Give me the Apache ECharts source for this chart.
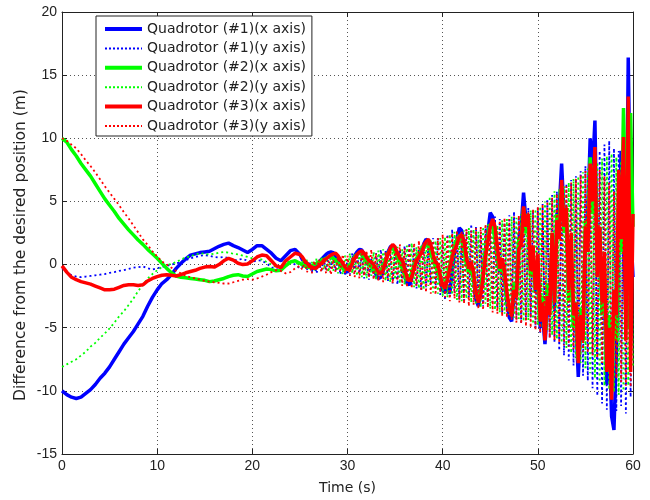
<!DOCTYPE html>
<html><head><meta charset="utf-8">
<script src="https://cdn.jsdelivr.net/npm/echarts@6/dist/echarts.min.js"></script>
<style>html,body{margin:0;padding:0;background:#fff}#c{width:650px;height:500px}</style>
</head><body><div id="c"></div>
<script>
// Time stamps (s)
const time = [
0,0.5,1,1.5,2,2.5,3,3.5,4,4.5,
5,5.5,6,6.5,7,7.5,8,8.5,9,9.5,
10,10.5,11,11.5,12,12.5,13,13.5,14,14.5,
15,15.5,16,16.5,17,17.5,18,18.5,19,19.5,
20,20.5,21,21.5,22,22.5,23,23.5,24,24.5,
25,
25.25,25.5,25.75,26, 26.25,26.5,26.75,27, 27.25,27.5,27.75,28, 28.25,28.5,28.75,29, 29.25,29.5,29.75,30,
30.25,30.5,30.75,31, 31.25,31.5,31.75,32, 32.25,32.5,32.75,33, 33.25,33.5,33.75,34, 34.25,34.5,34.75,35,
35.25,35.5,35.75,36, 36.25,36.5,36.75,37, 37.25,37.5,37.75,38, 38.25,38.5,38.75,39, 39.25,39.5,39.75,40,
40.25,40.5,40.75,41, 41.25,41.5,41.75,42, 42.25,42.5,42.75,43, 43.25,43.5,43.75,44, 44.25,44.5,44.75,45,
45.25,45.5,45.75,46, 46.25,46.5,46.75,47, 47.25,47.5,47.75,48, 48.25,48.5,48.75,49, 49.25,49.5,49.75,50,
50.25,50.5,50.75,51, 51.25,51.5,51.75,52, 52.25,52.5,52.75,53, 53.25,53.5,53.75,54, 54.25,54.5,54.75,55,
55.25,55.5,55.75,56, 56.25,56.5,56.75,57, 57.25,57.5,57.75,58, 58.25,58.5,58.75,59, 59.25,59.5,59.75,60
];

// Quadrotor #1, x axis
const q1x = [
-10.0,-10.3,-10.5,-10.6,-10.5,-10.2,-9.9,-9.5,-9.0,-8.6,
-8.1,-7.5,-6.9,-6.3,-5.8,-5.3,-4.7,-4.1,-3.3,-2.6,
-2.0,-1.5,-1.2,-0.8,-0.3,0.1,0.45,0.75,0.85,0.95,
1.0,1.05,1.25,1.45,1.6,1.7,1.5,1.35,1.15,0.95,
1.2,1.5,1.5,1.2,0.9,0.5,0.3,0.7,1.1,1.2,
0.8,
0.4,0.2,0.0,-0.2, -0.3,-0.2,0.0,0.2, 0.4,0.6,0.8,0.95, 1.0,0.95,0.7,0.4, 0.1,-0.2,-0.5,-0.6,
-0.3,0.2,0.7,1.0, 1.2,1.15,0.8,0.4, 0.1,0.0,-0.3,-0.8, -1.1,-1.0,-0.5,0.3, 1.0,1.4,1.5,1.2,
0.6,0.3,0.0,-0.8, -1.5,-1.6,-1.1,-0.2, 0.4,0.7,1.1,1.6, 2.0,1.9,1.3,0.5, 0.0,-0.4,-1.3,-2.0,
-2.2,-1.6,-2.3,-0.5, 1.0,2.0,2.9,2.7, 1.5,0.2,-0.5,-0.1, -1.2,-2.8,-3.3,-2.2, -0.5,1.2,2.6,4.1,
3.8,2.2,0.4,-0.6, 0.3,-1.2,-3.0,-4.2, -4.5,-2.5,-1.8,2.0, 3.0,5.7,3.5,3.0, -0.8,0.5,-2.2,-1.0,
-5.0,-4.0,-6.3,-3.5, -2.5,1.5,-3.5,4.0, 4.5,8.0,4.0,3.0, -2.5,0.5,-5.0,-4.5, -8.9,-5.0,-5.5,2.5,
4.0,10.0,7.5,11.4, 0.0,3.0,-4.0,-2.0, -9.5,-6.0,-12.0,-13.1, -7.0,1.0,9.0,2.0, -4.0,16.4,3.0,-1.0
];

// Quadrotor #1, y axis
const q1y = [
-0.3,-0.6,-0.85,-0.95,-1.0,-0.95,-0.9,-0.85,-0.8,-0.75,
-0.65,-0.6,-0.5,-0.45,-0.35,-0.25,-0.2,-0.15,-0.3,-0.4,
-0.3,-0.2,-0.1,0.0,0.1,0.2,0.35,0.5,0.6,0.7,
0.75,0.7,0.6,0.55,0.6,0.5,0.3,0.4,0.45,0.3,
0.2,0.35,0.3,0.1,-0.2,-0.4,-0.3,0.0,0.2,0.0,
-0.3,
-0.2,0.3,-0.4,0.2, -0.6,0.1,-0.7,0.2, -0.5,0.4,-0.4,0.6, -0.3,0.7,-0.5,0.5, -0.8,0.3,-0.9,0.4,
-0.8,0.9,-0.6,1.0, -0.7,0.8,-1.1,0.6, -1.2,0.5,-1.0,0.9, -0.8,1.2,-0.9,1.1, -1.3,0.8,-1.5,0.7,
-1.6,1.2,-1.4,1.5, -1.2,1.7,-1.6,1.4, -1.9,1.2,-2.0,1.3, -1.8,1.8,-1.6,2.1, -1.9,2.2,-2.4,1.6,
-2.8,2.4,-2.5,2.8, -2.2,2.6,-2.8,2.2, -3.0,2.8,-2.6,3.2, -2.4,3.0,-2.9,2.6, -3.3,2.9,-3.2,3.4,
-3.0,3.8,-3.4,3.6, -3.8,3.3,-4.0,3.9, -3.6,4.2,-4.3,3.8, -4.6,4.0,-4.4,4.5, -4.2,4.3,-5.0,4.5,
-5.4,4.8,-5.6,5.2, -5.8,5.5,-6.2,5.8, -6.8,6.0,-7.2,6.4, -7.6,6.7,-8.0,7.0, -8.4,7.4,-8.8,7.8,
-9.2,8.2,-9.8,8.6, -10.4,9.0,-11.0,9.5, -11.5,9.8,-11.8,9.2, -11.6,9.0,-11.2,8.5, -11.8,8.0,-10.5,6.0
];

// Quadrotor #2, x axis
const q2x = [
10.0,9.7,9.1,8.6,8.0,7.5,7.0,6.4,5.8,5.2,
4.7,4.2,3.65,3.2,2.75,2.35,1.95,1.6,1.2,0.85,
0.5,0.1,-0.3,-0.65,-0.9,-1.0,-1.05,-1.1,-1.15,-1.2,
-1.25,-1.35,-1.3,-1.2,-1.1,-0.95,-0.85,-0.8,-0.9,-0.95,
-0.75,-0.55,-0.45,-0.35,-0.4,-0.5,-0.45,-0.1,0.2,0.3,
0.1,
0.0,-0.1,-0.2,-0.2, -0.1,0.0,0.1,0.2, 0.3,0.4,0.5,0.6, 0.6,0.5,0.3,0.1, -0.1,-0.3,-0.4,-0.3,
0.0,0.3,0.6,0.8, 0.9,0.8,0.5,0.2, 0.0,-0.2,-0.4,-0.6, -0.7,-0.5,-0.1,0.4, 0.9,1.2,1.3,1.0,
0.5,0.1,-0.3,-0.8, -1.2,-1.1,-0.6,0.0, 0.5,0.8,1.1,1.5, 1.7,1.5,1.0,0.3, -0.2,-0.6,-1.2,-1.6,
-1.5,-0.8,0.0,0.8, 1.5,2.0,2.3,2.0, 1.0,0.0,-0.6,-0.3, -1.2,-2.3,-2.6,-1.8, -0.4,1.0,2.3,3.2,
3.0,2.0,0.6,-0.5, 0.2,-1.0,-2.6,-3.6, -3.8,-1.5,-2.5,2.0, 2.0,4.5,2.5,3.2, -1.0,0.8,-2.0,0.0,
-4.2,-2.5,-5.3,-1.5, -3.5,2.5,-2.5,4.0, 3.0,6.2,2.5,4.0, -3.0,1.5,-5.0,-3.0, -7.6,-3.5,-6.0,3.5,
2.0,8.5,4.0,8.0, -1.0,2.5,-4.0,0.0, -8.5,-4.0,-10.0,-3.0, -6.0,5.0,1.0,12.4, 4.0,-5.0,12.0,3.0
];

// Quadrotor #2, y axis
const q2y = [
-8.1,-7.9,-7.7,-7.5,-7.2,-6.9,-6.5,-6.2,-5.8,-5.45,
-5.05,-4.6,-4.1,-3.7,-3.2,-2.7,-2.1,-1.6,-1.1,-0.75,
-0.45,-0.2,-0.05,0.05,0.2,0.4,0.55,0.65,0.8,0.9,
0.85,0.8,0.85,0.95,1.0,0.95,0.85,0.8,0.7,0.6,
0.5,0.5,0.4,0.2,0.0,-0.2,-0.1,0.1,0.3,0.2,
-0.1,
0.3,-0.3,0.4,-0.4, 0.2,-0.5,0.5,-0.3, 0.6,-0.4,0.5,-0.6, 0.7,-0.5,0.6,-0.7, 0.5,-0.8,0.7,-0.6,
0.9,-0.7,0.8,-0.9, 0.9,-1.0,0.7,-1.1, 0.8,-0.9,1.0,-1.2, 1.1,-1.0,1.2,-1.3, 1.0,-1.4,1.3,-1.2,
1.4,-1.5,1.2,-1.6, 1.5,-1.4,1.7,-1.8, 1.4,-1.9,1.6,-2.0, 1.8,-1.7,2.0,-2.2, 1.9,-2.3,2.1,-2.5,
2.2,-2.6,2.4,-2.4, 2.6,-2.8,2.3,-2.9, 2.7,-2.7,2.9,-3.0, 2.8,-3.2,2.6,-3.4, 3.0,-3.1,3.2,-3.5,
3.3,-3.6,3.1,-3.8, 3.5,-3.9,3.6,-4.0, 3.8,-4.2,3.7,-4.3, 4.0,-4.5,4.1,-4.4, 4.3,-4.7,4.4,-4.8,
4.6,-5.0,5.0,-5.2, 5.4,-5.6,5.8,-5.9, 6.0,-6.2,6.2,-6.6, 6.5,-7.0,6.8,-7.4, 7.0,-7.8,7.3,-8.2,
7.6,-8.6,7.9,-9.0, 8.1,-9.3,8.4,-9.6, 8.6,-9.9,8.8,-10.1, 8.5,-10.3,8.2,-10.0, 7.8,-9.6,7.0,-8.0
];

// Quadrotor #3, x axis
const q3x = [
-0.1,-0.6,-1.0,-1.2,-1.35,-1.45,-1.55,-1.7,-1.85,-2.0,
-2.0,-1.95,-1.8,-1.65,-1.6,-1.6,-1.65,-1.6,-1.3,-1.1,
-0.95,-0.85,-0.8,-0.85,-0.9,-0.8,-0.65,-0.55,-0.45,-0.3,
-0.2,-0.15,-0.2,0.0,0.3,0.5,0.35,0.1,0.0,0.05,
0.3,0.6,0.75,0.7,0.3,-0.1,-0.25,0.3,0.6,0.9,
0.8,
0.6,0.3,0.1,-0.1, -0.2,-0.3,-0.25,-0.1, 0.1,0.3,0.45,0.6, 0.75,0.85,0.9,0.7, 0.4,0.1,-0.2,-0.4,
-0.35,0.1,0.5,0.8, 1.0,1.1,0.9,0.6, 0.3,0.2,0.0,-0.3, -0.6,-0.7,-0.4,0.2, 0.8,1.3,1.6,1.4,
0.9,0.5,0.4,-0.3, -1.0,-1.3,-1.0,-0.3, 0.3,0.6,0.9,1.4, 1.8,2.0,1.6,0.8, 0.2,0.0,-0.9,-1.6,
-1.9,-1.2,-0.3,0.6, 1.2,1.6,2.2,2.4, 1.8,0.6,-0.3,0.2, -0.6,-2.2,-3.0,-2.4, -1.0,0.6,1.8,3.0,
3.6,3.0,1.4,-0.3, 0.5,-0.5,-2.2,-3.4, -4.1,-2.0,-2.6,1.2, 1.6,4.6,3.0,4.0, -0.5,1.5,-2.0,0.8,
-4.5,-3.0,-6.0,-2.5, -4.0,2.5,-3.0,3.5, 2.0,6.7,3.0,4.5, -2.0,2.5,-4.0,-3.0, -7.8,-4.0,-6.0,3.0,
1.0,8.0,5.0,9.3, -1.0,3.0,-3.0,1.0, -8.5,-5.0,-10.7,-2.0, -4.0,7.5,2.0,10.1, -6.0,13.3,-8.5,4.0
];

// Quadrotor #3, y axis
const q3y = [
10.0,9.8,9.5,9.2,8.75,8.25,7.8,7.3,6.75,6.2,
5.7,5.2,4.7,4.15,3.65,3.1,2.55,2.0,1.55,1.05,
0.65,0.25,0.0,-0.25,-0.5,-0.7,-0.9,-1.0,-1.1,-1.2,
-1.3,-1.35,-1.4,-1.45,-1.5,-1.5,-1.4,-1.3,-1.2,-1.15,
-1.2,-1.1,-0.95,-0.8,-0.6,-0.45,-0.5,-0.7,-0.6,-0.3,
-0.1,
-0.4,0.2,-0.6,0.1, -0.7,0.3,-0.5,0.4, -0.6,0.5,-0.7,0.3, -0.8,0.4,-0.6,0.6, -0.5,0.8,-0.7,0.7,
-0.9,0.6,-1.0,0.8, -1.1,1.0,-0.9,1.1, -1.0,1.2,-1.2,0.9, -1.3,0.8,-1.4,1.0, -1.2,1.3,-1.5,1.4,
-1.3,1.6,-1.7,1.3, -1.8,1.5,-1.9,1.7, -1.7,1.9,-2.1,1.8, -2.2,2.0,-2.3,1.9, -2.4,2.1,-2.2,2.4,
-2.6,2.2,-2.9,2.5, -2.7,2.7,-3.0,2.6, -3.1,2.8,-3.3,2.7, -3.2,2.9,-3.5,3.0, -3.6,3.2,-3.4,3.3,
-3.8,3.4,-3.9,3.5, -4.1,3.7,-4.2,3.6, -4.4,3.8,-4.6,3.9, -4.7,4.1,-4.9,4.2, -5.0,4.4,-5.2,4.6,
-5.4,4.8,-5.6,5.0, -5.8,5.3,-6.0,5.6, -6.2,5.9,-6.4,6.2, -6.5,6.5,-6.7,6.8, -6.8,7.1,-6.9,7.4,
-7.0,7.6,-7.2,7.7, -7.4,7.5,-7.8,7.0, -8.2,6.5,-8.6,5.8, -9.0,5.0,-9.3,4.2, -9.6,3.5,-9.7,3.0
];

const seriesNames = [
  'Quadrotor (#1)(x axis)', 'Quadrotor (#1)(y axis)',
  'Quadrotor (#2)(x axis)', 'Quadrotor (#2)(y axis)',
  'Quadrotor (#3)(x axis)', 'Quadrotor (#3)(y axis)'
];
const seriesValues = [q1x, q1y, q2x, q2y, q3x, q3y];
const seriesColors = ['#0000ff', '#0000ff', '#00ff00', '#00ff00', '#ff0000', '#ff0000'];
const seriesDotted = [false, true, false, true, false, true];

const xTicks = { min: 0, max: 60, interval: 10 };
const yTicks = { min: -15, max: 20, interval: 5 };

const chart = echarts.init(document.getElementById('c'), null, { renderer: 'canvas' });

const axisColor = '#222';
const tickFont = { color: '#222', fontFamily: 'Liberation Sans', fontSize: 14 };

function mkAxis(base, pos, labels, split) {
  return Object.assign({
    type: 'value',
    position: pos,
    axisLine: { show: true, onZero: false, lineStyle: { color: axisColor, width: 1 } },
    axisTick: { show: true, inside: true, length: 5, lineStyle: { color: axisColor } },
    axisLabel: Object.assign({ show: labels, margin: 5 }, tickFont),
    splitLine: { show: split, lineStyle: { type: [1, 3], color: '#555', width: 1 } }
  }, base);
}

function lineStyleFor(k) {
  return seriesDotted[k]
    ? { color: seriesColors[k], width: 1.8, type: [2, 3] }
    : { color: seriesColors[k], width: 3.5, type: 'solid' };
}

const series = seriesNames.map((n, k) => ({
  name: n,
  type: 'line',
  data: time.map((t, i) => [t, seriesValues[k][i]]),
  symbol: 'none',
  showSymbol: false,
  animation: false,
  clip: true,
  itemStyle: { color: seriesColors[k] },
  lineStyle: lineStyleFor(k)
}));

const legendData = seriesNames.map((n, k) => ({
  name: n,
  lineStyle: seriesDotted[k]
    ? { width: 2, type: [2, 2] }
    : { width: 4 }
}));

chart.setOption({
  backgroundColor: '#fff',
  animation: false,
  grid: { left: 62, right: 17, top: 12, bottom: 46 },
  xAxis: [
    mkAxis(Object.assign({ name: 'Time (s)', nameLocation: 'middle', nameGap: 27,
      nameTextStyle: { color: '#222', fontFamily: 'DejaVu Sans', fontSize: 14 } }, xTicks), 'bottom', true, true),
    mkAxis(Object.assign({}, xTicks), 'top', false, false)
  ],
  yAxis: [
    mkAxis(Object.assign({}, yTicks), 'left', true, true),
    mkAxis(Object.assign({}, yTicks), 'right', false, false)
  ],
  legend: {
    orient: 'vertical',
    left: 96, top: 16,
    padding: [6, 6, 3, 7],
    itemWidth: 37, itemHeight: 14, itemGap: 5.4,
    backgroundColor: '#fff',
    borderColor: '#222', borderWidth: 1, borderRadius: 0,
    itemStyle: { opacity: 0 },
    textStyle: { color: '#222', fontFamily: 'DejaVu Sans', fontSize: 14 },
    data: legendData
  },
  graphic: [{
    type: 'text',
    x: 21, y: 245,
    rotation: Math.PI / 2,
    style: {
      text: 'Difference from the desired position (m)',
      fill: '#222', font: '15.5px "DejaVu Sans"',
      align: 'center', verticalAlign: 'middle'
    }
  }],
  series: series
});
</script>
</body></html>
